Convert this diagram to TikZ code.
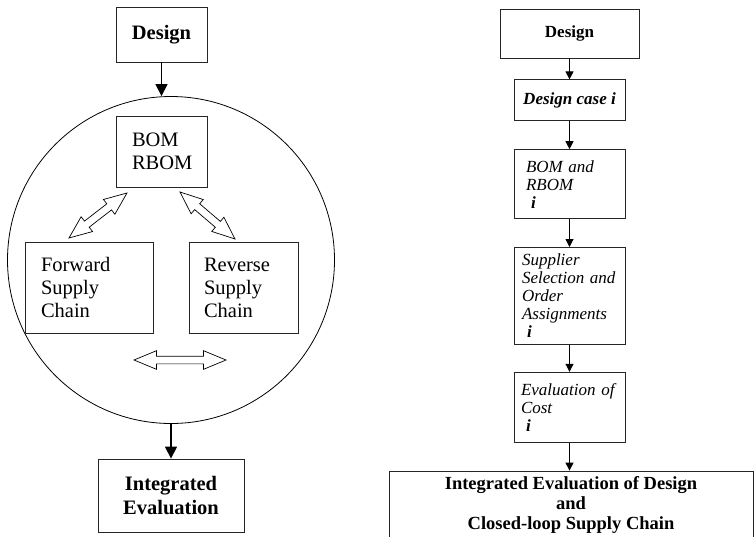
\documentclass[tikz,border=0pt]{standalone}
\usepackage{fontspec}
\setmainfont{Liberation Serif}
\usetikzlibrary{positioning,calc,arrows.meta,shapes.arrows}
\tikzset{
        box/.style={rectangle, draw=black!85, line width=0.8pt, inner sep=0pt},
        % Left diagram
        box_left/.style={box, align=left, font=\fontsize{20.5}{23}\selectfont},
        box_title/.style={box, align=center, font=\fontsize{20.5}{24}\selectfont\bfseries},
        % Right diagram
        box_step/.style={box, align=left, font=\fontsize{17}{18}\selectfont\itshape},
        % Arrows
        flow/.style={draw=black, line width=1.2pt, -{Triangle[length=12pt,width=12pt]}},
        flow_small/.style={draw=black, line width=1pt, -{Triangle[length=8pt,width=8pt]}},
        hollow/.style={double arrow, draw=black, line width=0.7pt, fill=white, inner xsep=0pt, inner ysep=3.5pt,
                double arrow head extend=5.5pt, double arrow tip angle=45}
}
\begin{document}
\begin{tikzpicture}[x=1pt, y=-1pt, node distance=28pt]
    \useasboundingbox (0,0) rectangle (754,536);
    % Left: design and closed loop
    \node[box_title, minimum width=91pt, minimum height=55pt] (design) at (161.5,34.5) {Design};
    \node[circle, draw=black, line width=0.8pt, inner sep=0pt, minimum size=327pt] (ring) at (171,260) {};
    \node[box_left, minimum width=91pt, minimum height=71pt, text width=59pt] (bom) at (161.5,151.5) {BOM\\RBOM};
    \node[box_left, minimum width=128pt, minimum height=91pt, text width=96pt] (fsc) at (89,287.5) {Forward\\Supply\\Chain};
    \node[box_left, minimum width=109pt, minimum height=91pt, text width=79pt] (rsc) at (243.5,287.5) {Reverse\\Supply\\Chain};
    \node[box_title, minimum width=146pt, minimum height=73pt] (ieval) at (171,495.5) {Integrated\\Evaluation};

    \draw[flow] (design.south) -- (design.south |- ring.north);
    \draw[flow] (ring.south) -- (ieval.north);

    \coordinate (l1) at (127,193); \coordinate (l2) at (69,238);
    \coordinate (r1) at (180,192); \coordinate (r2) at (235,239);
    \coordinate (h1) at (134,360); \coordinate (h2) at (226,360);
    \foreach \a/\b in {l1/l2, r1/r2, h1/h2}
        \path let \p1 = ($(\b)-(\a)$), \n1 = {atan2(\y1,\x1)}, \n2 = {veclen(\x1,\y1)} in
            node[hollow, rotate=\n1, minimum height=\n2] at ($(\a)!0.5!(\b)$) {};

    % Right: step by step
    \node[box_title, font=\fontsize{17}{20}\selectfont\bfseries, minimum width=139pt, minimum height=49pt] (design2) at (569.5,33.5) {Design};
    \node[box_step, font=\fontsize{17}{18}\selectfont\bfseries\itshape, minimum width=111pt, minimum height=41pt, below=21pt of design2] (case) {Design case i};
    \node[box_step, minimum width=111pt, minimum height=69pt, text width=87pt, below=of case] (bomi) {BOM and\\RBOM\\\hspace*{5pt}\textbf{i}};
    \node[box_step, minimum width=111pt, minimum height=97pt, text width=95pt, below=of bomi] (supp) {Supplier\\Selection and\\Order\\Assignments\\\hspace*{5pt}\textbf{i}};
    \node[box_step, minimum width=111pt, minimum height=70pt, text width=97pt, below=27pt of supp] (cost) {Evaluation of\\Cost\\\hspace*{5pt}\textbf{i}};
    \node[box_title, font=\fontsize{18.5}{20}\selectfont\bfseries, minimum width=364pt, minimum height=68pt, below=28pt of cost, xshift=1.5pt] (ieval2) {Integrated Evaluation of Design\\and\\Closed-loop Supply Chain};

    \foreach \a/\b in {design2/case, case/bomi, bomi/supp, supp/cost, cost/ieval2}
        \draw[flow_small] (\a.south) -- (\a.south |- \b.north);
\end{tikzpicture}
\end{document}
